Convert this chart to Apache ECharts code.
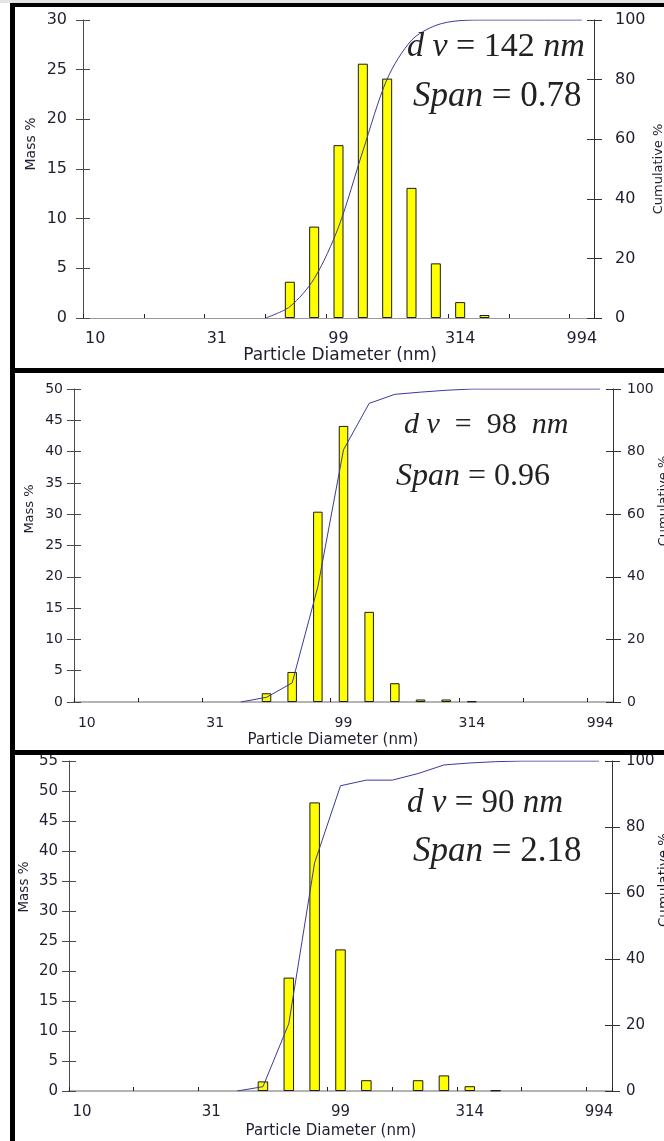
<!DOCTYPE html>
<html><head><meta charset="utf-8">
<script src="https://cdn.jsdelivr.net/npm/echarts@6/dist/echarts.min.js"></script>
<style>html,body{margin:0;padding:0;background:#fff}#c{width:664px;height:1141px}</style>
</head><body><div id="c"></div>
<script>
// ---------------- data ----------------
const N = null;
const categories = ['10','12.6','15.8','19.9','25','31','39.6','49.8','62.6','78.8','99','125','157','198','249','314','395','497','625','787','994'];
const massA = [N,N,N,N,N,N,N,N,3.65,9.2,17.4,25.6,24.1,13.1,5.5,1.6,0.3,N,N,N,N];
const cumA  = [N,N,N,N,N,N,N,0,3.8,13.2,30.5,56.0,80.2,93.2,98.2,99.8,100,100,100,100,100];
const massB = [N,N,N,N,N,N,N,1.4,4.8,30.4,44.1,14.4,3.0,0.4,0.4,0.1,N,N,N,N,N];
const cumB  = [N,N,N,N,N,N,0,1.5,6.1,36.8,80.6,95.4,98.3,99.0,99.6,100,100,100,100,100,100];
const massC = [N,N,N,N,N,N,N,1.6,18.9,48.1,23.6,1.8,N,1.8,2.6,0.8,0.1,N,N,N,N];
const cumC  = [N,N,N,N,N,N,0,1.3,20.4,69.2,92.5,94.2,94.2,96.2,98.8,99.4,99.8,100,100,100,100];
const massTicksA = [0,5,10,15,20,25,30];
const massTicksB = [0,5,10,15,20,25,30,35,40,45,50];
const massTicksC = [0,5,10,15,20,25,30,35,40,45,50,55];
const cumTicks = [0,20,40,60,80,100];
const dvLabels = ['142','98','90'];
const spanLabels = ['0.78','0.96','2.18'];
const xTitle = 'Particle Diameter (nm)';
const massTitle = 'Mass %';
const cumTitle = 'Cumulative %';

// ---------------- layout / style ----------------
const SANS = 'DejaVu Sans';
const SERIF = 'Liberation Serif';
const TXT = '#1e1e30';
const panels = [
  {mass: massA, cum: cumA, ticks: massTicksA, left:83, top:20, width:511, height:298,
   font:16, xMargin:13, lMargin:16, rMargin:21, topLine:{color:'#9a9a9a', width:1},
   xT:[340,356,17], mT:[31,144,14], cT:[659,169,13], dv:[407,47,34], sp:[413,97,35], dvSp:' ', smooth:0.3, barWidth:10},
  {mass: massB, cum: cumB, ticks: massTicksB, left:74, top:389, width:539, height:313,
   font:14, xMargin:14, lMargin:11, rMargin:14, topLine:{color:'#b4b4b4', width:2},
   xT:[333,740,15], mT:[30,509,13], cT:[664,501,13], dv:[404,425,30], sp:[396,477,32], dvSp:'  ', smooth:false, barWidth:9.5},
  {mass: massC, cum: cumC, ticks: massTicksC, left:69, top:761, width:543, height:330,
   font:15, xMargin:14, lMargin:11, rMargin:14, topLine:{color:'#b4b4b4', width:2},
   xT:[331,1131,15], mT:[24,887,13.5], cT:[664,880,13.5], dv:[407,803,33], sp:[413,852,35], dvSp:' ', smooth:false, barWidth:10.5}
];

const option = {animation:false, backgroundColor:'#fff', grid:[], xAxis:[], yAxis:[], series:[], graphic:[]};

panels.forEach((p, i) => {
  option.grid.push({left:p.left, top:p.top, width:p.width, height:p.height, containLabel:false});
  const lab = {fontFamily:SANS, fontSize:p.font, color:TXT};
  // bottom category axis (labels)
  option.xAxis.push({type:'category', gridIndex:i, data:categories, position:'bottom',
    axisLine:{lineStyle:{color:'#111', width:1}}, axisTick:{show:false},
    axisLabel:Object.assign({interval:4, margin:p.xMargin}, lab)});
  // tick-only value axis (ticks every 2.5 bins)
  option.xAxis.push({type:'value', gridIndex:i, position:'bottom', min:0, max:categories.length, interval:2.5,
    axisLine:{show:false}, axisLabel:{show:false}, splitLine:{show:false},
    axisTick:{show:true, inside:true, length:4, lineStyle:{color:'#222'}}});
  // top border
  option.xAxis.push({type:'category', gridIndex:i, data:categories, position:'top',
    axisLine:{lineStyle:p.topLine}, axisTick:{show:false}, axisLabel:{show:false}});
  const mMin = p.ticks[0], mMax = p.ticks[p.ticks.length-1], mInt = p.ticks[1]-p.ticks[0];
  const cMin = cumTicks[0], cMax = cumTicks[cumTicks.length-1], cInt = cumTicks[1]-cumTicks[0];
  option.yAxis.push({type:'value', gridIndex:i, position:'left', min:mMin, max:mMax, interval:mInt,
    axisLine:{show:true, lineStyle:{color:'#4a4a4a'}}, splitLine:{show:false},
    axisTick:{show:true, length:7, lineStyle:{color:'#4a4a4a'}},
    axisLabel:Object.assign({margin:p.lMargin}, lab)});
  option.yAxis.push({type:'value', gridIndex:i, position:'left', min:mMin, max:mMax, interval:mInt,
    axisLine:{show:false}, splitLine:{show:false}, axisLabel:{show:false},
    axisTick:{show:true, inside:true, length:7, lineStyle:{color:'#4a4a4a'}}});
  option.yAxis.push({type:'value', gridIndex:i, position:'right', min:cMin, max:cMax, interval:cInt,
    axisLine:{show:true, lineStyle:{color:'#333'}}, splitLine:{show:false},
    axisTick:{show:true, length:8, lineStyle:{color:'#333'}},
    axisLabel:Object.assign({margin:p.rMargin}, lab)});
  option.yAxis.push({type:'value', gridIndex:i, position:'right', min:cMin, max:cMax, interval:cInt,
    axisLine:{show:false}, splitLine:{show:false}, axisLabel:{show:false},
    axisTick:{show:true, inside:true, length:7, lineStyle:{color:'#333'}}});

  option.series.push({type:'bar', name:'Mass '+i, xAxisIndex:3*i, yAxisIndex:4*i, data:p.mass,
    barWidth:p.barWidth, itemStyle:{color:'#ffff00', borderColor:'#1a1a1a', borderWidth:1}, z:2});
  option.series.push({type:'line', name:'Cumulative '+i, xAxisIndex:3*i, yAxisIndex:4*i+2, data:p.cum,
    smooth:p.smooth, showSymbol:false, symbol:'none', lineStyle:{color:'#3a3a9c', width:1}, z:3});

  // titles
  option.graphic.push({type:'text', x:p.xT[0], y:p.xT[1], z:10,
    style:{text:xTitle, fill:TXT, fontFamily:SANS, fontSize:p.xT[2], align:'center', verticalAlign:'middle'}});
  option.graphic.push({type:'text', x:p.mT[0], y:p.mT[1], rotation:Math.PI/2, z:10,
    style:{text:massTitle, fill:TXT, fontFamily:SANS, fontSize:p.mT[2], align:'center', verticalAlign:'middle'}});
  option.graphic.push({type:'text', x:p.cT[0], y:p.cT[1], rotation:Math.PI/2, z:10,
    style:{text:cumTitle, fill:TXT, fontFamily:SANS, fontSize:p.cT[2], align:'center', verticalAlign:'middle'}});
  // annotations
  const s = p.dvSp;
  option.graphic.push({type:'text', x:p.dv[0], y:p.dv[1], z:10,
    style:{text:'{i|d v}'+s+'='+s+dvLabels[i]+s+'{i|nm}', fill:'#222', fontFamily:SERIF, fontSize:p.dv[2],
      align:'left', verticalAlign:'middle',
      rich:{i:{fontStyle:'italic', fontFamily:SERIF, fontSize:p.dv[2], fill:'#222'}}}});
  option.graphic.push({type:'text', x:p.sp[0], y:p.sp[1], z:10,
    style:{text:'{i|Span} = '+spanLabels[i], fill:'#222', fontFamily:SERIF, fontSize:p.sp[2],
      align:'left', verticalAlign:'middle',
      rich:{i:{fontStyle:'italic', fontFamily:SERIF, fontSize:p.sp[2], fill:'#222'}}}});
});

// frame
const frame = [
  [0,0,664,3,'#e4e4e4'],
  [10,3,654,4,'#000'],
  [10,3,5,369,'#000'],
  [10,368,654,5,'#000'],
  [10,368,5,387,'#000'],
  [10,750,654,5,'#000'],
  [10,750,5,391,'#000']
];
frame.forEach(f => option.graphic.push({type:'rect', z:20, shape:{x:f[0], y:f[1], width:f[2], height:f[3]}, style:{fill:f[4]}}));

const chart = echarts.init(document.getElementById('c'), null, {renderer:'canvas'});
chart.setOption(option);
</script></body></html>
